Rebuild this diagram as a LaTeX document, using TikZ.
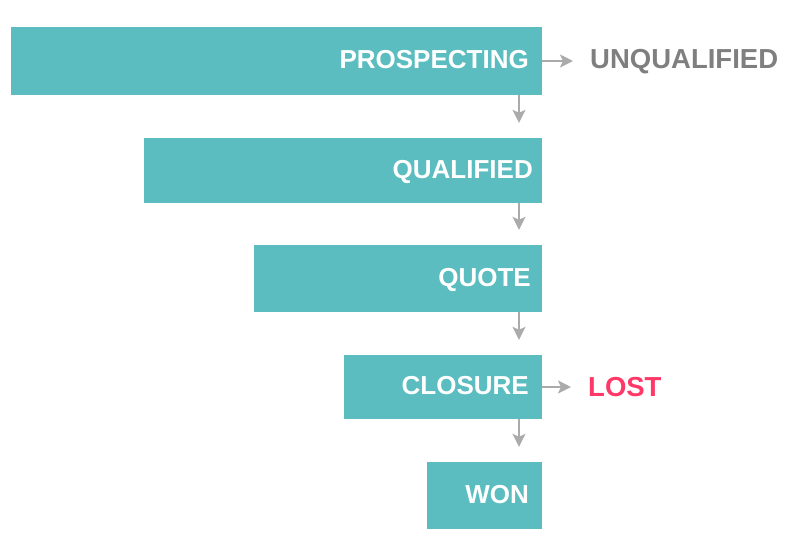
\documentclass[tikz,border=0pt]{standalone}
\usepackage{fontspec}
\setmainfont{Liberation Sans}
\usepackage{xcolor}
\usetikzlibrary{arrows.meta,positioning,calc}

\definecolor{stagecol}{HTML}{5BBDBF}
\definecolor{arrowcol}{HTML}{ABABAB}
\definecolor{unqcol}{HTML}{7F7F7F}
\definecolor{lostcol}{HTML}{FF3868}

\begin{document}
\begin{tikzpicture}[x=1pt, y=-1pt,
  stage/.style={fill=stagecol, text=white, anchor=east, inner xsep=13pt, inner ysep=0pt,
    align=right, font=\bfseries\fontsize{26}{28}\selectfont, text height=19pt, text depth=4pt},
  outcome/.style={anchor=west, inner sep=0pt, text depth=0pt, font=\bfseries\fontsize{27.5}{30}\selectfont},
  flow/.style={-{Triangle[length=13pt,width=13pt,inset=3pt]}, arrowcol, line width=2pt}]

\useasboundingbox (0,0) rectangle (798,550);

% Funnel stages (right edges aligned)
\node[stage, text width=505pt, minimum height=68pt] (prosp) at (542,61) {PROSPECTING};
\node[stage, text width=380pt, inner xsep=9pt, minimum height=65pt] (qual) at (542,170.5) {QUALIFIED};
\node[stage, text width=266pt, inner xsep=11pt, minimum height=67pt] (quote) at (542,278.5) {QUOTE};
\node[stage, text width=172pt, minimum height=64pt] (clos) at (542,387) {CLOSURE};
\node[stage, text width=89pt, minimum height=67pt] (won) at (542,495.5) {WON};

% Outcomes
\node[outcome, text=unqcol] (unq) at (590,58.5) {UNQUALIFIED};
\node[outcome, text=lostcol] (lost) at (588,387) {LOST};

% Down arrows
\coordinate (ax) at (519,0);
\foreach \from/\to in {prosp/qual, qual/quote, quote/clos, clos/won}
    \draw[flow, shorten >=15pt] (\from.south -| ax) -- (\to.north -| ax);

% Side arrows
\draw[flow, shorten >=17pt] (prosp.east |- 0,61) -- (unq.west |- 0,61);
\draw[flow, shorten >=17pt] (clos.east) -- (lost.west |- clos.east);

\end{tikzpicture}
\end{document}
